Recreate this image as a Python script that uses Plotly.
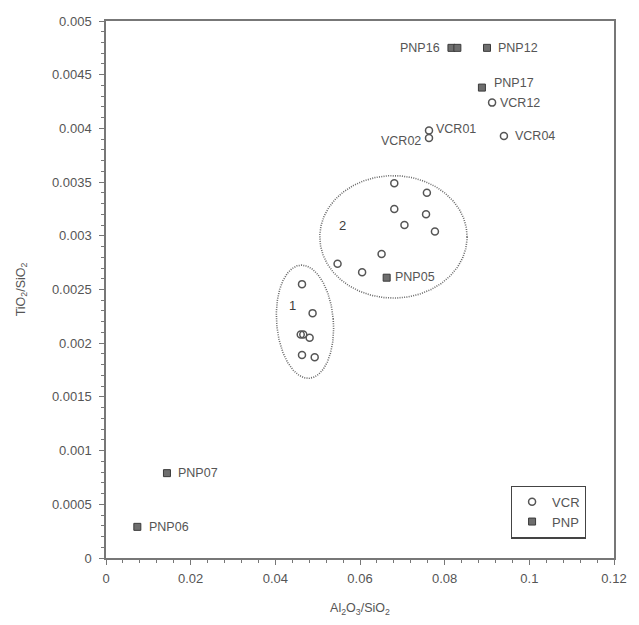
import numpy as np
import plotly.graph_objects as go

# ---- data ----
vcr_names = ["VCR12", "VCR01", "VCR02", "VCR04",
             "", "", "", "", "", "", "", "", "",
             "", "", "", "", "", "", ""]
vcr_x = [0.0912, 0.0763, 0.0763, 0.0940,
         0.0681, 0.0758, 0.0681, 0.0756, 0.0705, 0.0777, 0.0651, 0.0547, 0.0605,
         0.0463, 0.0488, 0.0460, 0.0466, 0.0481, 0.0463, 0.0493]
vcr_y = [0.00424, 0.00398, 0.00391, 0.00393,
         0.00349, 0.00340, 0.00325, 0.00320, 0.00310, 0.00304, 0.00283, 0.00274, 0.00266,
         0.00255, 0.00228, 0.00208, 0.00208, 0.00205, 0.00189, 0.00187]

pnp_names = ["PNP16", "", "PNP12", "PNP17", "PNP05", "PNP07", "PNP06"]
pnp_x = [0.0816, 0.0830, 0.0900, 0.0888, 0.0663, 0.0144, 0.0074]
pnp_y = [0.00475, 0.00475, 0.00475, 0.00438, 0.00261, 0.00079, 0.00029]

# label placement: (side, dx px, dy px)
label_pos = {
    "VCR12": ("left", 6, 0), "VCR01": ("left", 5, 2), "VCR02": ("right", -6, -3),
    "VCR04": ("left", 9, 0), "PNP16": ("right", -9, 0), "PNP12": ("left", 9, 0),
    "PNP17": ("left", 10, 5), "PNP05": ("left", 6, 1), "PNP07": ("left", 9, 0),
    "PNP06": ("left", 10, 0),
}

# group ellipses: centre x, centre y, semi-axis x, semi-axis y, tilt (deg)
ell_cx = [0.0470, 0.0679]
ell_cy = [0.00220, 0.00299]
ell_ax = [0.0067, 0.0174]
ell_ay = [0.000528, 0.000570]
ell_rot = [5, 0]
ell_labels = ["1", "2"]
ell_lab_x = [0.0440, 0.0558]
ell_lab_y = [0.00235, 0.00310]

XR = [0, 0.12]
YR = [0, 0.005]
xticks = [0, 0.02, 0.04, 0.06, 0.08, 0.1, 0.12]
xtick_text = ["0", "0.02", "0.04", "0.06", "0.08", "0.1", "0.12"]
yticks = [0, 0.0005, 0.001, 0.0015, 0.002, 0.0025, 0.003, 0.0035, 0.004, 0.0045, 0.005]
ytick_text = ["0", "0.0005", "0.001", "0.0015", "0.002", "0.0025", "0.003",
              "0.0035", "0.004", "0.0045", "0.005"]

TXT = "#555555"
FONT = "Liberation Sans, Arial, sans-serif"

fig = go.Figure()

# ellipses (computed in axis-normalised space so the tilt is visual)
t = np.linspace(0, 2 * np.pi, 400)
for cx, cy, ax_, ay_, rot in zip(ell_cx, ell_cy, ell_ax, ell_ay, ell_rot):
    sx, sy = XR[1], YR[1]
    a = ax_ / sx
    b = ay_ / sy
    th = np.deg2rad(rot)
    u = a * np.cos(t)
    v = b * np.sin(t)
    ur = u * np.cos(th) - v * np.sin(th)
    vr = u * np.sin(th) + v * np.cos(th)
    fig.add_trace(go.Scatter(x=cx + ur * sx, y=cy + vr * sy, mode="lines",
                             line=dict(color="#6a6a6a", width=1.6, dash="1px,1.3px"),
                             showlegend=False, hoverinfo="skip"))

fig.add_trace(go.Scatter(x=vcr_x, y=vcr_y, mode="markers", name="VCR",
                         marker=dict(symbol="circle-open", size=7,
                                     line=dict(color="#555555", width=1.5),
                                     color="#555555")))
fig.add_trace(go.Scatter(x=pnp_x, y=pnp_y, mode="markers", name="PNP",
                         marker=dict(symbol="square", size=7, color="#6e6e6e",
                                     line=dict(color="#3a3a3a", width=1))))

for names, xs, ys in ((vcr_names, vcr_x, vcr_y), (pnp_names, pnp_x, pnp_y)):
    for n, x, y in zip(names, xs, ys):
        if not n:
            continue
        side, dx, dy = label_pos[n]
        fig.add_annotation(x=x, y=y, text=n, showarrow=False, xanchor=side,
                           yanchor="middle", xshift=dx, yshift=dy,
                           font=dict(family=FONT, size=12.5, color=TXT))

for lab, x, y in zip(ell_labels, ell_lab_x, ell_lab_y):
    fig.add_annotation(x=x, y=y, text=lab, showarrow=False,
                       font=dict(family=FONT, size=13, color="#3c3c3c"))

axis_common = dict(showline=True, linecolor="#777777", linewidth=1.5, mirror=True,
                   showgrid=False, zeroline=False, ticks="outside", ticklen=5,
                   tickcolor="#777777", tickwidth=1,
                   tickfont=dict(family=FONT, size=13, color=TXT))

fig.update_xaxes(range=XR, tickvals=xticks, ticktext=xtick_text, ticklabelstandoff=3,
                 minor=dict(ticks="outside", dtick=0.004, ticklen=3, tickcolor="#777777"),
                 title=dict(text="Al<sub>2</sub>O<sub>3</sub>/SiO<sub>2</sub>",
                            font=dict(family=FONT, size=12.5, color=TXT), standoff=18),
                 **axis_common)
fig.update_yaxes(range=YR, tickvals=yticks, ticktext=ytick_text, ticklabelstandoff=5,
                 minor=dict(ticks="outside", dtick=0.0001, ticklen=3, tickcolor="#777777"),
                 title=dict(text="TiO<sub>2</sub>/SiO<sub>2</sub>",
                            font=dict(family=FONT, size=12.5, color=TXT), standoff=24),
                 **axis_common)

fig.update_layout(
    width=639, height=625,
    margin=dict(l=106, r=17, t=21, b=60),
    plot_bgcolor="white", paper_bgcolor="white",
    font=dict(family=FONT, color=TXT),
    legend=dict(x=0.797, y=0.135, xanchor="left", yanchor="top",
                bordercolor="#444444", borderwidth=1.2, bgcolor="white",
                font=dict(family=FONT, size=13, color=TXT),
                itemwidth=30, tracegroupgap=0),
)

fig.write_html("out.html")
